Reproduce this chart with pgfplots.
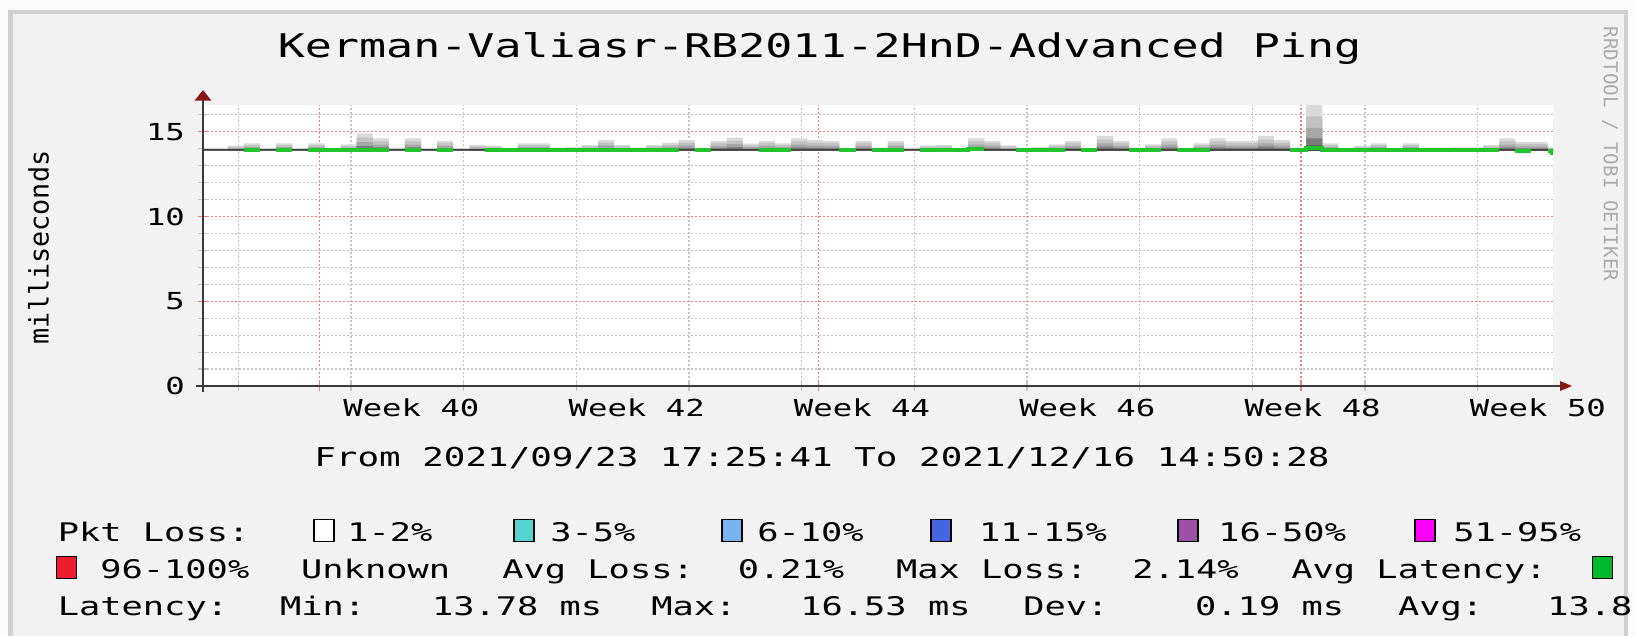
\documentclass[border=0pt]{standalone}
\usepackage{pgfplots}
\pgfplotsset{compat=1.18}
\usetikzlibrary{arrows.meta}
\usepackage{fontspec}
\setmainfont[FakeStretch=1.38]{DejaVu Sans Mono}
\newfontfamily\plainmono{DejaVu Sans Mono}
\definecolor{bg}{HTML}{F2F2F2}
\definecolor{outer}{HTML}{FAFAFA}
\definecolor{frame}{HTML}{CFCFCF}
\definecolor{mgrid}{HTML}{F08080}
\definecolor{ngrid}{HTML}{C4C4C4}
\definecolor{axcol}{HTML}{3A3A3A}
\definecolor{arrowred}{HTML}{8B1414}
\definecolor{sm1}{HTML}{DADADA}
\definecolor{sm2}{HTML}{C2C2C2}
\definecolor{sm3}{HTML}{A6A6A6}
\definecolor{sm4}{HTML}{7C7C7C}
\definecolor{sm5}{HTML}{505050}
\definecolor{medgreen}{HTML}{22C42C}
\definecolor{c35}{HTML}{55D4D0}
\definecolor{c610}{HTML}{78B4F0}
\definecolor{c1115}{HTML}{4466E0}
\definecolor{c1650}{HTML}{9E50A8}
\definecolor{c5195}{HTML}{FF00FF}
\definecolor{c96}{HTML}{EE1C2C}
\definecolor{cavg}{HTML}{00B828}

% smoke layers per daily step (x = step start, days since 2021/09/23 17:25:41)
\pgfplotstableread{
x L1 L2 L3 L4 L5
-0.45 14.02 13.985 13.95 13.918 13.897
0.55 14.02 13.985 13.95 13.918 13.897
1.55 14.18 14.105 14.03 13.961 13.916
2.55 14.32 14.21 14.10 13.999 13.933
3.55 14.04 14.00 13.96 13.923 13.899
4.55 14.32 14.21 14.10 13.999 13.933
5.55 14.04 14.00 13.96 13.923 13.899
6.55 14.32 14.21 14.10 13.999 13.933
7.55 14.04 14.00 13.96 13.923 13.899
8.55 14.25 14.158 14.065 13.98 13.924
9.55 14.91 14.653 14.395 14.158 14.004
10.55 14.61 14.428 14.245 14.077 13.968
11.55 14.06 14.015 13.97 13.929 13.902
12.55 14.61 14.428 14.245 14.077 13.968
13.55 14.04 14.00 13.96 13.923 13.899
14.55 14.47 14.323 14.175 14.039 13.951
15.55 14.04 14.00 13.96 13.923 13.899
16.55 14.22 14.135 14.05 13.972 13.921
17.55 14.18 14.105 14.03 13.961 13.916
18.55 14.04 14.00 13.96 13.923 13.899
19.55 14.32 14.21 14.10 13.999 13.933
20.55 14.32 14.21 14.10 13.999 13.933
21.55 14.06 14.015 13.97 13.929 13.902
22.55 14.10 14.045 13.99 13.939 13.906
23.55 14.22 14.135 14.05 13.972 13.921
24.55 14.51 14.353 14.195 14.05 13.956
25.55 14.22 14.135 14.05 13.972 13.921
26.55 14.06 14.015 13.97 13.929 13.902
27.55 14.22 14.135 14.05 13.972 13.921
28.55 14.36 14.24 14.12 14.01 13.938
29.55 14.51 14.353 14.195 14.05 13.956
30.55 14.04 14.00 13.96 13.923 13.899
31.55 14.47 14.323 14.175 14.039 13.951
32.55 14.65 14.458 14.265 14.088 13.972
33.55 14.30 14.195 14.09 13.993 13.93
34.55 14.47 14.323 14.175 14.039 13.951
35.55 14.32 14.21 14.10 13.999 13.933
36.55 14.61 14.428 14.245 14.077 13.968
37.55 14.51 14.353 14.195 14.05 13.956
38.55 14.47 14.323 14.175 14.039 13.951
39.55 14.04 14.00 13.96 13.923 13.899
40.55 14.47 14.323 14.175 14.039 13.951
41.55 14.06 14.015 13.97 13.929 13.902
42.55 14.47 14.323 14.175 14.039 13.951
43.55 14.06 14.015 13.97 13.929 13.902
44.55 14.20 14.12 14.04 13.966 13.918
45.55 14.22 14.135 14.05 13.972 13.921
46.55 14.04 14.00 13.96 13.923 13.899
47.55 14.61 14.428 14.245 14.077 13.968
48.55 14.47 14.323 14.175 14.039 13.951
49.55 14.20 14.12 14.04 13.966 13.918
50.55 14.06 14.015 13.97 13.929 13.902
51.55 14.10 14.045 13.99 13.939 13.906
52.55 14.26 14.165 14.07 13.983 13.926
53.55 14.47 14.323 14.175 14.039 13.951
54.55 14.04 14.00 13.96 13.923 13.899
55.55 14.76 14.54 14.32 14.118 13.986
56.55 14.47 14.323 14.175 14.039 13.951
57.55 14.06 14.015 13.97 13.929 13.902
58.55 14.26 14.165 14.07 13.983 13.926
59.55 14.61 14.428 14.245 14.077 13.968
60.55 14.04 14.00 13.96 13.923 13.899
61.55 14.32 14.21 14.10 13.999 13.933
62.55 14.61 14.428 14.245 14.077 13.968
63.55 14.47 14.323 14.175 14.039 13.951
64.55 14.47 14.323 14.175 14.039 13.951
65.55 14.76 14.54 14.32 14.118 13.986
66.55 14.51 14.353 14.195 14.05 13.956
67.55 14.06 14.015 13.97 13.929 13.902
68.55 16.58 15.905 15.23 14.609 14.204
69.55 14.32 14.21 14.10 13.999 13.933
70.55 14.04 14.00 13.96 13.923 13.899
71.55 14.18 14.105 14.03 13.961 13.916
72.55 14.32 14.21 14.10 13.999 13.933
73.55 14.04 14.00 13.96 13.923 13.899
74.55 14.32 14.21 14.10 13.999 13.933
75.55 14.06 14.015 13.97 13.929 13.902
76.55 14.06 14.015 13.97 13.929 13.902
77.55 14.08 14.03 13.98 13.934 13.904
78.55 14.08 14.03 13.98 13.934 13.904
79.55 14.22 14.135 14.05 13.972 13.921
80.55 14.61 14.428 14.245 14.077 13.968
81.55 14.40 14.27 14.14 14.02 13.942
82.55 14.40 14.27 14.14 14.02 13.942
83.55 14.10 14.045 13.99 13.939 13.906
83.89 14.10 14.045 13.99 13.939 13.906
}\smoke

\begin{document}
\begin{tikzpicture}
% outer frame
\fill[outer] (0pt,0pt) rectangle (818pt,-318pt);
\clip (0pt,0pt) rectangle (818pt,-318pt);
\fill[frame] (4pt,-5pt) rectangle (814pt,-318pt);
\fill[bg] (6.5pt,-7pt) rectangle (812pt,-318pt);
% axis 1: background, grid, ticks
\begin{axis}[
  at={(101.5pt,-193pt)}, anchor=south west,
  scale only axis, width=675pt, height=140.5pt,
  xmin=0, xmax=83.89, ymin=0, ymax=16.58,
  axis background/.style={fill=white},
  axis line style={draw=none},
  tick align=center,
  major tick length=5pt, minor tick length=5pt,
  xtick={7.23,38.23,68.23}, xticklabels={},
  minor xtick={2.2,9.2,16.2,23.2,30.2,37.2,44.2,51.2,58.2,65.2,72.2,79.2},
  ytick={0,5,10,15}, yticklabels={0,5,10,15},
  minor ytick={1,2,3,4,6,7,8,9,11,12,13,14,16},
  xmajorgrids, ymajorgrids, xminorgrids, yminorgrids,
  major grid style={mgrid, line width=0.6pt, dash pattern=on 1pt off 1pt},
  minor grid style={ngrid, line width=0.6pt, dash pattern=on 1pt off 1pt},
  major tick style={mgrid, line width=0.6pt},
  minor tick style={ngrid, line width=0.6pt},
  ytick pos=left, xtick pos=bottom,
  yticklabel style={font=\fontsize{11.7}{11.7}\selectfont, anchor=east, xshift=-3pt},
  extra x ticks={12.95,26.95,40.95,54.95,68.95,82.95},
  extra x tick labels={Week 40,Week 42,Week 44,Week 46,Week 48,Week 50},
  extra x tick style={grid=none, major tick length=0pt,
     tick label style={font=\fontsize{11.7}{11.7}\selectfont, anchor=base, yshift=-15.3pt}},
]
\addplot[draw=none, forget plot] coordinates {(0,0) (83.89,16.58)};
\end{axis}
% axis 2: smoke (y range starts at the smoke floor)
\begin{axis}[
  at={(101.5pt,-75.38pt)}, anchor=south west,
  scale only axis, width=675pt, height=22.88pt,
  xmin=0, xmax=83.89, ymin=13.88, ymax=16.58,
  axis lines=none, ticks=none, clip=true,
]
\addplot[fill=sm1, draw=none, const plot mark left] table[x=x,y=L1]{\smoke} \closedcycle;
\addplot[fill=sm2, draw=none, const plot mark left] table[x=x,y=L2]{\smoke} \closedcycle;
\addplot[fill=sm3, draw=none, const plot mark left] table[x=x,y=L3]{\smoke} \closedcycle;
\addplot[fill=sm4, draw=none, const plot mark left] table[x=x,y=L4]{\smoke} \closedcycle;
\addplot[fill=sm5, draw=none, const plot mark left] table[x=x,y=L5]{\smoke} \closedcycle;
\end{axis}
% axis 3: median lines
\begin{axis}[
  at={(101.5pt,-193pt)}, anchor=south west,
  scale only axis, width=675pt, height=140.5pt,
  xmin=0, xmax=83.89, ymin=0, ymax=16.58,
  axis lines=none, ticks=none, clip=true,
]
\addplot[sm5!80!black, line width=0.9pt] coordinates {(0,13.96) (83.89,13.96)};
\addplot[medgreen, line width=2pt, const plot mark left, unbounded coords=jump] coordinates {
 (2.55,13.90) (3.55,13.90) (3.55,nan)
 (4.55,13.90) (5.55,13.90) (5.55,nan)
 (6.55,13.90) (11.55,13.90) (11.55,nan)
 (12.55,13.90) (13.55,13.90) (13.55,nan)
 (14.55,13.90) (15.55,13.90) (15.55,nan)
 (17.55,13.90) (29.55,13.90) (29.55,nan)
 (30.55,13.90) (31.55,13.90) (31.55,nan)
 (34.55,13.90) (36.55,13.90) (36.55,nan)
 (39.55,13.90) (40.55,13.90) (40.55,nan)
 (41.55,13.90) (43.55,13.90) (43.55,nan)
 (44.55,13.90) (47.55,14.01) (48.55,14.01) (48.55,nan)
 (50.55,13.90) (53.55,13.90) (53.55,nan)
 (54.55,13.90) (55.55,13.90) (55.55,nan)
 (57.55,13.90) (59.55,13.90) (59.55,nan)
 (60.55,13.90) (62.55,13.90) (62.55,nan)
 (67.55,13.90) (68.55,14.04) (69.55,13.90) (80.55,13.90) (80.55,nan)
 (81.55,13.86) (82.55,13.86) (82.55,nan)
 (83.55,13.89) (83.80,13.77) (83.89,13.77)
};
\end{axis}
% axis lines with arrows
\draw[axcol, line width=1pt] (98pt,-193pt) -- (780pt,-193pt);
\draw[axcol, line width=1pt] (101.5pt,-196pt) -- (101.5pt,-50pt);
\fill[arrowred] (786pt,-193pt) -- (780pt,-190.5pt) -- (780pt,-195.5pt) -- cycle;
\fill[arrowred] (101.5pt,-45pt) -- (97.3pt,-50.3pt) -- (105.7pt,-50.3pt) -- cycle;
% texts
\node[font=\fontsize{16.3}{16.3}\selectfont, anchor=base, inner sep=0pt] at (409.8pt,-28.8pt) {Kerman-Valiasr-RB2011-2HnD-Advanced Ping};
\node[font=\plainmono\fontsize{9.6}{9.6}\selectfont, text=black!33, rotate=-90, anchor=center] at (805pt,-77pt) {RRDTOOL / TOBI OETIKER};
\node[font=\plainmono\fontsize{13.4}{13.4}\selectfont, rotate=90, anchor=center] at (19.3pt,-123.7pt) {milliseconds};
\node[font=\fontsize{13}{13}\selectfont, anchor=base, inner sep=0pt] at (411pt,-233pt) {From 2021/09/23 17:25:41 To 2021/12/16 14:50:28};
% legend
\begin{scope}[every node/.style={font=\fontsize{12.8}{12.8}\selectfont, anchor=base west, inner sep=0pt}]
\def\ra{-270.8pt}\def\rb{-289.2pt}\def\rc{-307.5pt}
\def\sq#1#2#3{\filldraw[fill=#1, draw=black, line width=0.8pt] (#2pt,#3pt) rectangle ++(10pt,11pt);}
\node at (28.75pt,\ra) {Pkt Loss:};
\sq{white}{157}{-270.8}\node at (173.5pt,\ra) {1-2\%};
\sq{c35}{257}{-270.8}\node at (275pt,\ra) {3-5\%};
\sq{c610}{361}{-270.8}\node at (378.5pt,\ra) {6-10\%};
\sq{c1115}{465.4}{-270.8}\node at (489.4pt,\ra) {11-15\%};
\sq{c1650}{589}{-270.8}\node at (609pt,\ra) {16-50\%};
\sq{c5195}{707.5}{-270.8}\node at (726.5pt,\ra) {51-95\%};
\sq{c96}{28.2}{-289.2}\node at (50pt,\rb) {96-100\%};
\node at (150.4pt,\rb) {Unknown};
\node at (251pt,\rb) {Avg Loss:};
\node at (368.7pt,\rb) {0.21\%};
\node at (447.8pt,\rb) {Max Loss:};
\node at (566pt,\rb) {2.14\%};
\node at (645.5pt,\rb) {Avg Latency:};
\sq{cavg}{796.2}{-289.2}
\node at (28.75pt,\rc) {Latency:};
\node at (139.9pt,\rc) {Min:};
\node at (215.8pt,\rc) {13.78 ms};
\node at (325.5pt,\rc) {Max:};
\node at (400pt,\rc) {16.53 ms};
\node at (511.5pt,\rc) {Dev:};
\node at (597.4pt,\rc) {0.19 ms};
\node at (698.8pt,\rc) {Avg:};
\node at (773.5pt,\rc) {13.8};
\end{scope}
\end{tikzpicture}
\end{document}
